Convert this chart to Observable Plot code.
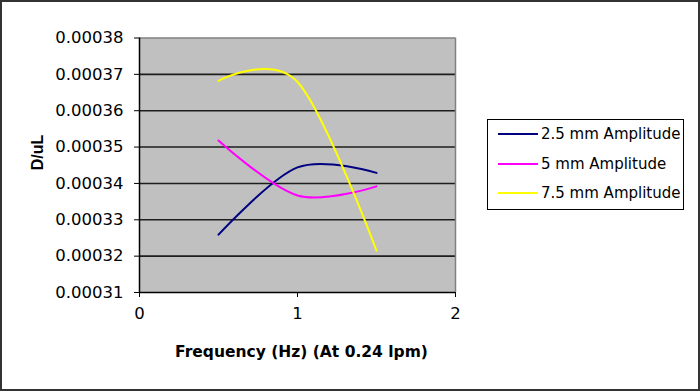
<!DOCTYPE html>
<html>
<head>
<meta charset="utf-8">
<script src="https://cdn.jsdelivr.net/npm/d3@7"></script>
<script src="https://cdn.jsdelivr.net/npm/@observablehq/plot@0.6"></script>
<style>
  html, body { margin: 0; padding: 0; background: #fff; }
  #chart { position: relative; width: 700px; height: 391px; overflow: hidden; background: #fff; color: #000; }
  #chart svg.main { position: absolute; left: 0; top: 0; }
  #border { position: absolute; left: 0; top: 0; width: 700px; height: 391px; box-sizing: border-box; border: 2px solid #333; pointer-events: none; }
  #legend { position: absolute; left: 487px; top: 119px; width: 197px; height: 91px; box-sizing: border-box; border: 1px solid #000; background: #fff; }
  #legend .row { position: absolute; left: 10px; height: 20px; display: flex; align-items: center; font-family: "DejaVu Sans", sans-serif; font-size: 15px; color: #000; white-space: nowrap; }
  #legend .sw { width: 40px; height: 2px; margin-right: 3px; }
</style>
</head>
<body>
<div id="chart"></div>
<script>
// Data
const freq = [0.5, 1, 1.5];
const seriesNames = ["2.5 mm Amplitude", "5 mm Amplitude", "7.5 mm Amplitude"];
const amp25 = [0.0003259, 0.0003444, 0.0003429];
const amp5 = [0.0003518, 0.0003367, 0.0003392];
const amp75 = [0.0003682, 0.0003679, 0.0003215];
const seriesColors = ["#000080", "#FF00FF", "#FFFF00"];
const xTicks = [0, 1, 2];
const yTicks = [0.00031, 0.00032, 0.00033, 0.00034, 0.00035, 0.00036, 0.00037, 0.00038];
const xTitle = "Frequency (Hz) (At 0.24 lpm)";
const yTitle = "D/uL";

const seriesValues = [amp25, amp5, amp75];
const rows = [];
seriesNames.forEach((name, i) => {
  freq.forEach((f, j) => rows.push({series: name, x: f, y: seriesValues[i][j]}));
});

const tickFont = "DejaVu Sans, sans-serif";

const plot = Plot.plot({
  width: 700,
  height: 391,
  marginLeft: 139,
  marginRight: 245,
  marginTop: 37.5,
  marginBottom: 99,
  style: {background: "transparent", color: "#000", fontFamily: tickFont, fontSize: "16.5px", overflow: "visible"},
  x: {domain: [0, 2]},
  y: {domain: [0.00031, 0.00038]},
  color: {domain: seriesNames, range: seriesColors},
  marks: [
    Plot.frame({fill: "#C0C0C0", stroke: null}),
    Plot.ruleY(yTicks.slice(1, -1), {stroke: "#1e1e1e", strokeWidth: 1.6}),
    Plot.ruleY([yTicks[yTicks.length - 1]], {stroke: "#808080", strokeWidth: 1.5}),
    Plot.ruleX([xTicks[xTicks.length - 1]], {stroke: "#808080", strokeWidth: 1.5}),
    Plot.axisY({ticks: yTicks, tickFormat: d3.format(".5f"), tickSize: 5, tickPadding: 11, label: null, fontSize: 16.5, stroke: "#000"}),
    Plot.axisX({ticks: xTicks, tickFormat: d3.format("d"), tickSize: 5, tickPadding: 10, label: null, fontSize: 16.5, stroke: "#000"}),
    Plot.ruleX([0], {stroke: "#000", strokeWidth: 1.5}),
    Plot.ruleY([0.00031], {stroke: "#000", strokeWidth: 1.5}),
    Plot.line(rows, {x: "x", y: "y", z: "series", stroke: "series", strokeWidth: 2, curve: "cardinal", tension: 0}),
    Plot.text([xTitle], {frameAnchor: "bottom", dy: 60, text: d => d, fontWeight: "bold", fontSize: 15.5, fontFamily: tickFont, lineAnchor: "middle", dx: 4, fill: "#000"}),
    Plot.text([yTitle], {frameAnchor: "left", dx: -101.5, dy: 5, rotate: -90, text: d => d, fontWeight: "bold", fontSize: 16, fontFamily: "Liberation Sans, Arial, sans-serif", lineAnchor: "middle", fill: "#000"})
  ]
});
plot.classList.add("main");
const chart = document.getElementById("chart");
chart.appendChild(plot);

// Legend
const legend = document.createElement("div");
legend.id = "legend";
const rowCenters = [14, 43.5, 73];
seriesNames.forEach((name, i) => {
  const r = document.createElement("div");
  r.className = "row";
  r.style.top = (rowCenters[i] - 10) + "px";
  const sw = document.createElement("div");
  sw.className = "sw";
  sw.style.background = seriesColors[i];
  const t = document.createElement("span");
  t.textContent = name;
  r.appendChild(sw);
  r.appendChild(t);
  legend.appendChild(r);
});
chart.appendChild(legend);

const border = document.createElement("div");
border.id = "border";
chart.appendChild(border);
</script>
</body>
</html>
